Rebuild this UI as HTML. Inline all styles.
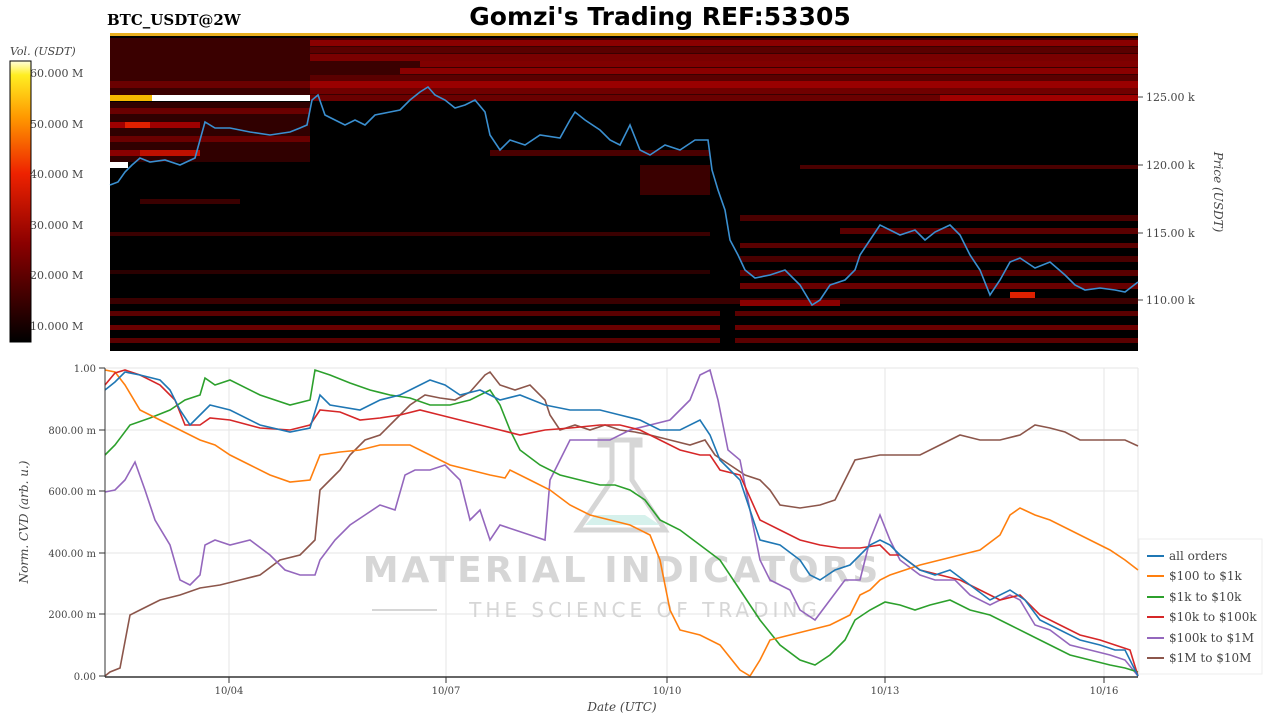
<!DOCTYPE html>
<html><head><meta charset="utf-8"><style>
html,body{margin:0;padding:0;background:#fff;}
svg{display:block;}
</style></head><body>
<svg width="1280" height="720" viewBox="0 0 1280 720" xmlns="http://www.w3.org/2000/svg" font-family="DejaVu Serif, Liberation Serif, serif">
<defs>
<linearGradient id="cb" x1="0" y1="1" x2="0" y2="0">
<stop offset="0" stop-color="#000"/><stop offset="0.35" stop-color="#8b0000"/><stop offset="0.6" stop-color="#ee2200"/><stop offset="0.8" stop-color="#ff9900"/><stop offset="0.95" stop-color="#ffee22"/><stop offset="1" stop-color="#ffffdd"/>
</linearGradient>
</defs>
<text x="660" y="25" text-anchor="middle" font-family="DejaVu Sans, sans-serif" font-weight="bold" font-size="25">Gomzi's Trading REF:53305</text>
<text x="107" y="25" font-weight="bold" font-size="15">BTC_USDT@2W</text>
<text x="10" y="55" font-style="italic" font-size="11" fill="#444">Vol. (USDT)</text>
<rect x="10" y="61" width="21" height="281" fill="url(#cb)" stroke="#000" stroke-width="1"/>
<g font-size="11" fill="#444">
<text x="30" y="77">60.000 M</text><text x="30" y="128">50.000 M</text><text x="30" y="178">40.000 M</text>
<text x="30" y="229">30.000 M</text><text x="30" y="279">20.000 M</text><text x="30" y="330">10.000 M</text>
</g>
<rect x="110" y="33" width="1028" height="318" fill="#000"/>
<rect x="110" y="33" width="1028" height="3" fill="#e8b020"/>
<g>
<rect x="110" y="38" width="1028" height="60" fill="#3a0000"/>
<rect x="310" y="40" width="828" height="6" fill="#8a0000"/>
<rect x="310" y="47" width="828" height="6" fill="#5a0000"/>
<rect x="310" y="54" width="828" height="7" fill="#7a0000"/>
<rect x="420" y="61" width="718" height="6" fill="#800000"/>
<rect x="400" y="68" width="738" height="6" fill="#8a0000"/>
<rect x="310" y="75" width="828" height="6" fill="#5a0000"/>
<rect x="310" y="81" width="828" height="7" fill="#9a0000"/>
<rect x="110" y="81" width="200" height="7" fill="#6a0000"/>
<rect x="310" y="88" width="828" height="6" fill="#700000"/>
<rect x="110" y="95" width="200" height="6" fill="#fff"/>
<rect x="110" y="95" width="42" height="6" fill="#f5b800"/>
<rect x="310" y="95" width="828" height="6" fill="#6a0000"/>
<rect x="940" y="95" width="198" height="6" fill="#a00000"/>
<rect x="110" y="102" width="200" height="60" fill="#300000"/>
<rect x="110" y="108" width="200" height="6" fill="#6a0000"/>
<rect x="110" y="122" width="90" height="6" fill="#a00000"/>
<rect x="125" y="122" width="25" height="6" fill="#e02000"/>
<rect x="110" y="136" width="200" height="6" fill="#6a0000"/>
<rect x="110" y="162" width="18" height="6" fill="#fff"/>
<rect x="110" y="150" width="90" height="6" fill="#8a0000"/>
<rect x="140" y="150" width="60" height="6" fill="#c01000"/>
<rect x="490" y="150" width="220" height="6" fill="#4a0000"/>
<rect x="640" y="165" width="70" height="30" fill="#3a0000"/>
<rect x="800" y="165" width="338" height="4" fill="#4a0000"/>
<rect x="140" y="199" width="100" height="5" fill="#3a0000"/>
<rect x="110" y="232" width="600" height="4" fill="#3a0000"/>
<rect x="740" y="215" width="398" height="6" fill="#4a0000"/>
<rect x="840" y="228" width="298" height="6" fill="#5a0000"/>
<rect x="740" y="243" width="398" height="5" fill="#5a0000"/>
<rect x="740" y="256" width="398" height="6" fill="#4a0000"/>
<rect x="740" y="270" width="398" height="6" fill="#5a0000"/>
<rect x="110" y="270" width="600" height="4" fill="#2a0000"/>
<rect x="740" y="283" width="398" height="6" fill="#6a0000"/>
<rect x="110" y="298" width="1028" height="6" fill="#3a0000"/>
<rect x="740" y="300" width="100" height="6" fill="#8a0000"/>
<rect x="1010" y="292" width="25" height="6" fill="#e02000"/>
<rect x="110" y="311" width="1028" height="5" fill="#5a0000"/>
<rect x="110" y="325" width="1028" height="5" fill="#6a0000"/>
<rect x="110" y="338" width="1028" height="5" fill="#5a0000"/>
<rect x="720" y="310" width="15" height="41" fill="#000"/>
</g>
<polyline fill="none" stroke="#3a8fd0" stroke-width="1.6" points="110,185 118,182 125,172 132,165 140,158 150,162 165,160 180,165 195,158 200,140 205,122 215,128 230,128 250,132 270,135 290,132 300,128 307,125 312,100 318,95 325,115 335,120 345,125 355,120 365,125 375,115 390,112 400,110 410,100 420,92 428,87 435,95 445,100 455,108 465,105 475,100 485,112 490,135 500,150 510,140 525,145 540,135 560,138 570,120 575,112 585,120 600,130 610,140 620,145 630,125 640,150 650,155 665,145 680,150 695,140 708,140 712,170 718,190 725,210 730,240 738,255 745,270 755,278 770,275 785,270 800,285 812,305 820,300 830,285 845,280 855,270 860,255 870,240 880,225 890,230 900,235 915,230 925,240 935,232 950,225 960,235 970,255 980,270 990,295 1000,280 1010,262 1020,258 1035,268 1050,262 1065,275 1075,285 1085,290 1100,288 1115,290 1125,292 1138,282"/>
<g stroke="#444"><line x1="1138" y1="97" x2="1143" y2="97"/><line x1="1138" y1="165" x2="1143" y2="165"/><line x1="1138" y1="233" x2="1143" y2="233"/><line x1="1138" y1="300" x2="1143" y2="300"/></g>
<g font-size="11" fill="#444">
<text x="1146" y="101">125.00 k</text><text x="1146" y="169">120.00 k</text><text x="1146" y="237">115.00 k</text><text x="1146" y="304">110.00 k</text>
</g>
<text transform="translate(1214,192) rotate(90)" text-anchor="middle" font-style="italic" font-size="12" fill="#444">Price (USDT)</text>

<rect x="105" y="368" width="1033" height="309" fill="#fff"/>
<g stroke="#e6e6e6" stroke-width="1">
<line x1="105" y1="430" x2="1138" y2="430"/><line x1="105" y1="491" x2="1138" y2="491"/><line x1="105" y1="553" x2="1138" y2="553"/><line x1="105" y1="614" x2="1138" y2="614"/><line x1="105" y1="368" x2="1138" y2="368"/>
<line x1="229" y1="368" x2="229" y2="677"/><line x1="446" y1="368" x2="446" y2="677"/><line x1="667" y1="368" x2="667" y2="677"/><line x1="885" y1="368" x2="885" y2="677"/><line x1="1104" y1="368" x2="1104" y2="677"/><line x1="1138" y1="368" x2="1138" y2="677"/>
</g>
<g fill="#ccc" opacity="0.8">
<path d="M600,440 L640,440 L640,445 L632,445 L632,480 L665,530 L578,530 L612,480 L612,445 L600,445 Z" fill="none" stroke="#ccc" stroke-width="5"/>
<path d="M595,515 L645,515 L660,525 L585,525 Z" fill="#cdeee8"/>
<text x="622" y="582" text-anchor="middle" font-family="DejaVu Sans, sans-serif" font-weight="bold" font-size="36" letter-spacing="3">MATERIAL INDICATORS</text>
<text x="645" y="617" text-anchor="middle" font-family="DejaVu Sans, sans-serif" font-size="20" letter-spacing="4">THE SCIENCE OF TRADING</text>
<rect x="372" y="609" width="65" height="2"/>
</g>
<g fill="none" stroke-width="1.6">
<polyline stroke="#8c564b" points="105,676 110,672 120,668 130,615 140,610 150,605 160,600 180,595 200,588 220,585 240,580 260,575 280,560 300,555 315,540 320,490 330,480 340,470 350,455 365,440 380,435 395,420 410,405 425,395 440,398 455,400 470,392 485,375 490,372 500,385 515,390 530,385 545,400 550,415 560,430 575,425 590,430 605,425 620,430 635,432 650,435 670,440 690,445 705,440 715,455 730,465 745,475 760,480 770,490 780,505 800,508 820,505 835,500 845,480 855,460 865,458 880,455 900,455 920,455 940,445 960,435 980,440 1000,440 1020,435 1035,425 1050,428 1065,432 1080,440 1100,440 1115,440 1125,440 1138,446"/>
<polyline stroke="#9467bd" points="105,492 115,490 125,480 135,462 145,490 155,520 170,545 180,580 190,585 200,575 205,545 215,540 230,545 250,540 270,555 285,570 300,575 315,575 320,560 335,540 350,525 365,515 380,505 395,510 405,475 415,470 430,470 445,465 460,480 470,520 480,510 490,540 500,525 515,530 530,535 545,540 550,480 560,460 570,440 590,440 610,440 630,430 650,425 670,420 690,400 700,375 710,370 718,400 728,450 740,460 750,510 760,560 770,580 790,590 800,610 815,620 830,600 845,580 860,580 870,540 880,515 890,540 900,560 920,575 935,580 955,580 970,595 990,605 1010,595 1020,600 1035,625 1050,630 1070,645 1090,650 1110,655 1125,660 1138,676"/>
<polyline stroke="#2ca02c" points="105,455 115,445 130,425 150,418 170,410 185,400 200,395 205,378 215,385 230,380 260,395 290,405 310,400 315,370 330,375 350,383 370,390 390,395 410,398 430,405 450,405 470,400 490,390 500,405 510,430 520,450 540,465 560,475 580,480 600,485 615,485 630,490 645,500 660,520 680,530 700,545 720,560 740,590 760,620 780,645 800,660 815,665 830,655 845,640 855,620 870,610 885,602 900,605 915,610 930,605 950,600 970,610 990,615 1010,625 1030,635 1050,645 1070,655 1090,660 1110,665 1125,668 1138,672"/>
<polyline stroke="#ff7f0e" points="105,370 115,372 125,385 140,410 160,420 180,430 200,440 215,445 230,455 250,465 270,475 290,482 310,480 320,455 340,452 360,450 380,445 410,445 430,455 450,465 470,470 490,475 505,478 510,470 530,480 550,490 570,505 590,515 610,520 630,525 650,535 660,560 670,610 680,630 700,635 720,645 740,670 750,676 760,660 770,640 790,635 810,630 830,625 850,615 860,595 870,590 880,580 890,575 905,570 920,565 940,560 960,555 980,550 1000,535 1010,515 1020,508 1035,515 1050,520 1070,530 1090,540 1110,550 1125,560 1138,570"/>
<polyline stroke="#d62728" points="105,385 115,373 125,370 140,375 160,385 175,400 185,425 200,425 210,418 230,420 260,428 290,430 310,425 320,410 340,412 360,420 380,418 400,415 420,410 440,415 460,420 480,425 500,430 520,435 545,430 570,428 600,425 620,425 640,430 660,440 680,450 700,455 710,455 720,470 740,475 760,520 780,530 800,540 820,545 840,548 860,548 880,545 890,555 900,555 920,570 940,575 960,580 980,590 1000,600 1020,595 1040,615 1060,625 1080,635 1100,640 1115,645 1130,650 1138,676"/>
<polyline stroke="#1f77b4" points="105,390 115,382 125,372 140,375 160,380 170,390 180,410 190,425 200,415 210,405 230,410 260,425 290,432 310,428 320,395 330,405 360,410 380,400 400,395 420,385 430,380 445,385 460,395 480,390 500,400 520,395 545,405 570,410 600,410 620,415 640,420 660,430 680,430 700,420 710,435 720,460 730,470 740,480 750,510 760,540 780,545 800,560 810,575 820,580 835,570 850,565 860,555 870,545 880,540 890,545 900,555 920,570 935,575 950,570 970,585 990,600 1010,590 1025,600 1040,620 1060,630 1080,640 1100,645 1115,650 1125,650 1138,676"/>
</g>
<line x1="105" y1="677" x2="1138" y2="677" stroke="#333" stroke-width="1.5"/>
<line x1="105" y1="368" x2="105" y2="677" stroke="#333" stroke-width="1"/>
<g stroke="#333"><line x1="229" y1="677" x2="229" y2="683"/><line x1="446" y1="677" x2="446" y2="683"/><line x1="667" y1="677" x2="667" y2="683"/><line x1="885" y1="677" x2="885" y2="683"/><line x1="1104" y1="677" x2="1104" y2="683"/>
<line x1="99" y1="368" x2="105" y2="368"/><line x1="99" y1="430" x2="105" y2="430"/><line x1="99" y1="491" x2="105" y2="491"/><line x1="99" y1="553" x2="105" y2="553"/><line x1="99" y1="614" x2="105" y2="614"/><line x1="99" y1="676" x2="105" y2="676"/></g>
<g font-size="10" fill="#444" text-anchor="end">
<text x="96" y="372">1.00</text><text x="96" y="434">800.00 m</text><text x="96" y="495">600.00 m</text><text x="96" y="557">400.00 m</text><text x="96" y="618">200.00 m</text><text x="96" y="680">0.00</text>
</g>
<g font-size="10" fill="#444" text-anchor="middle">
<text x="229" y="694">10/04</text><text x="446" y="694">10/07</text><text x="667" y="694">10/10</text><text x="885" y="694">10/13</text><text x="1104" y="694">10/16</text>
</g>
<text x="622" y="711" text-anchor="middle" font-style="italic" font-size="12" fill="#444">Date (UTC)</text>
<text transform="translate(28,522) rotate(-90)" text-anchor="middle" font-style="italic" font-size="12" fill="#444">Norm. CVD (arb. u.)</text>
<rect x="1139" y="539" width="123" height="135" fill="#fff" stroke="#eee"/>
<g stroke-width="2">
<line x1="1147" y1="556" x2="1164" y2="556" stroke="#1f77b4"/>
<line x1="1147" y1="576" x2="1164" y2="576" stroke="#ff7f0e"/>
<line x1="1147" y1="597" x2="1164" y2="597" stroke="#2ca02c"/>
<line x1="1147" y1="617" x2="1164" y2="617" stroke="#d62728"/>
<line x1="1147" y1="638" x2="1164" y2="638" stroke="#9467bd"/>
<line x1="1147" y1="658" x2="1164" y2="658" stroke="#8c564b"/>
</g>
<g font-size="12" fill="#444">
<text x="1169" y="560">all orders</text><text x="1169" y="580">$100 to $1k</text><text x="1169" y="601">$1k to $10k</text>
<text x="1169" y="621">$10k to $100k</text><text x="1169" y="642">$100k to $1M</text><text x="1169" y="662">$1M to $10M</text>
</g>
</svg>
</body></html>
